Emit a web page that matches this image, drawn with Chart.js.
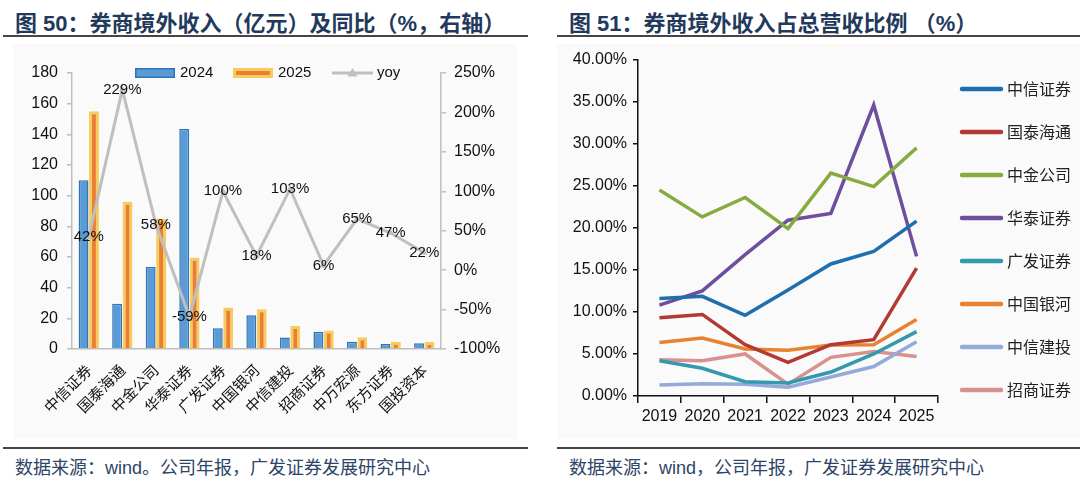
<!DOCTYPE html>
<html>
<head>
<meta charset="utf-8">
<script src="https://cdn.jsdelivr.net/npm/chart.js@4.4.1/dist/chart.umd.min.js"></script>
<style>
  body { margin: 0; width: 1080px; height: 482px; background: #fff; position: relative; overflow: hidden; }
  .title { position: absolute; top: 5px; font: bold 22px "Liberation Sans", "Noto Sans CJK SC", sans-serif; color: #1F3A5C; white-space: nowrap; }
  .rule { position: absolute; height: 2px; background: #454545; }
  .src { position: absolute; top: 453px; font: 18px "Liberation Sans", "Noto Sans CJK SC", sans-serif; color: #2D4566; white-space: nowrap; }
  .panel { position: absolute; top: 44px; height: 395px; background: #FAFAFA; }
  canvas { position: absolute; top: 44px; }
</style>
</head>
<body>
<div class="title" style="left:15px">图 50：券商境外收入（亿元）及同比（%，右轴）</div>
<div class="rule" style="left:3px;width:525px;top:35px"></div>
<div class="panel" style="left:13px;width:504px"></div>
<canvas id="left" style="left:13px" width="504" height="395"></canvas>
<div class="rule" style="left:3px;width:525px;top:447px"></div>
<div class="src" style="left:15px">数据来源：wind。公司年报，广发证券发展研究中心</div>

<div class="title" style="left:569px">图 51：券商境外收入占总营收比例 （%）</div>
<div class="rule" style="left:557px;width:523px;top:35px"></div>
<div class="panel" style="left:557px;width:523px"></div>
<canvas id="right" style="left:557px" width="523" height="395"></canvas>
<div class="rule" style="left:557px;width:523px;top:447px"></div>
<div class="src" style="left:569px">数据来源：wind，公司年报，广发证券发展研究中心</div>

<script>
// 图50 数据
const brokers = ['中信证券', '国泰海通', '中金公司', '华泰证券', '广发证券', '中国银河', '中信建投', '招商证券', '中万宏源', '东方证券', '国投资本'];
const rev2024 = [110, 29.5, 53.5, 143.5, 13.5, 22, 7.5, 11.2, 4.7, 3.2, 3.7];
const rev2025 = [155, 96, 85, 59.5, 27, 26, 15, 12, 7.7, 4.8, 4.6];
const yoy = [42, 229, 58, -59, 100, 18, 103, 6, 65, 47, 22];
const leftTicks = [0, 20, 40, 60, 80, 100, 120, 140, 160, 180];
const rightTicks = [-100, -50, 0, 50, 100, 150, 200, 250];

// 图51 数据
const years = ['2019', '2020', '2021', '2022', '2023', '2024', '2025'];
const citic = [11.6, 11.85, 9.6, 12.6, 15.7, 17.2, 20.8];
const gtht = [9.3, 9.7, 6.1, 4.0, 6.1, 6.7, 15.2];
const cicc = [24.5, 21.3, 23.6, 19.9, 26.5, 24.9, 29.5];
const htsc = [10.8, 12.5, 16.8, 20.9, 21.7, 34.6, 16.6];
const gfzq = [4.2, 3.3, 1.7, 1.55, 2.85, 5.0, 7.65];
const yinhe = [6.35, 6.9, 5.6, 5.45, 6.05, 6.1, 9.1];
const csc = [1.3, 1.45, 1.4, 1.05, 2.25, 3.5, 6.45];
const cms = [4.3, 4.2, 5.0, 1.4, 4.6, 5.3, 4.7];

const NUM_FONT = '"Liberation Sans", "Noto Sans CJK SC", sans-serif';
const CJK_FONT = '"Noto Sans CJK SC", sans-serif';

// yoy 数据标签, 居中放在点上
const yoyLabels = {
  id: 'yoyLabels',
  afterDatasetsDraw(chart) {
    const meta = chart.getDatasetMeta(2);
    const ctx = chart.ctx;
    ctx.save();
    ctx.font = '15px ' + NUM_FONT;
    ctx.fillStyle = '#111';
    ctx.textAlign = 'center';
    ctx.textBaseline = 'middle';
    meta.data.forEach((pt, i) => ctx.fillText(yoy[i] + '%', pt.x, pt.y));
    ctx.restore();
  }
};

// 图例画在绘图区里面
const leftLegend = {
  id: 'leftLegend',
  afterDraw(chart) {
    const ctx = chart.ctx;
    const ds = chart.data.datasets;
    ctx.save();
    ctx.font = '15px ' + NUM_FONT;
    ctx.fillStyle = '#111';
    ctx.textBaseline = 'middle';
    const y = 29;
    [[122, 0], [220, 1]].forEach(([x, i]) => {
      const bw = ds[i].borderWidth;
      ctx.fillStyle = ds[i].borderColor;
      ctx.fillRect(x, y - 5, 40, 10);
      ctx.fillStyle = ds[i].backgroundColor;
      ctx.fillRect(x + bw, y - 5 + bw, 40 - 2 * bw, 10 - 2 * bw);
      ctx.fillStyle = '#111';
      ctx.fillText(ds[i].label, x + 45, y);
    });
    ctx.strokeStyle = ds[2].borderColor;
    ctx.lineWidth = 3;
    ctx.beginPath();
    ctx.moveTo(319, y);
    ctx.lineTo(360, y);
    ctx.stroke();
    ctx.fillStyle = ds[2].borderColor;
    ctx.beginPath();
    ctx.moveTo(339.5, y - 5);
    ctx.lineTo(344.5, y + 3.5);
    ctx.lineTo(334.5, y + 3.5);
    ctx.closePath();
    ctx.fill();
    ctx.fillStyle = '#111';
    ctx.fillText(ds[2].label, 364, y);
    ctx.restore();
  }
};

const rightLegend = {
  id: 'rightLegend',
  afterDraw(chart) {
    const ctx = chart.ctx;
    ctx.save();
    ctx.font = '16px ' + CJK_FONT;
    ctx.textBaseline = 'middle';
    ctx.lineCap = 'round';
    chart.data.datasets.forEach((d, i) => {
      const y = 45 + i * 43;
      ctx.strokeStyle = d.borderColor;
      ctx.lineWidth = 4.5;
      ctx.beginPath();
      ctx.moveTo(405, y);
      ctx.lineTo(444, y);
      ctx.stroke();
      ctx.fillStyle = '#222';
      ctx.fillText(d.label, 450, y);
    });
    ctx.restore();
  }
};

new Chart(document.getElementById('left'), {
  data: {
    labels: brokers,
    datasets: [
      { type: 'bar', label: '2024', data: rev2024, backgroundColor: '#5B9BD5', borderColor: '#2E75B6', borderWidth: 1.5, yAxisID: 'y', order: 2, barPercentage: 0.95, categoryPercentage: 0.62 },
      { type: 'bar', label: '2025', data: rev2025, backgroundColor: '#ED7D31', borderColor: '#F4CD5E', borderWidth: 3, yAxisID: 'y', order: 2, barPercentage: 0.95, categoryPercentage: 0.62 },
      { type: 'line', label: 'yoy', data: yoy, borderColor: '#BFBFBF', backgroundColor: '#BFBFBF', borderWidth: 3, pointStyle: 'triangle', pointRadius: 4, pointBackgroundColor: '#BFBFBF', pointBorderWidth: 0, tension: 0, yAxisID: 'y1', order: 1 }
    ]
  },
  options: {
    responsive: false,
    animation: false,
    layout: { padding: { top: 29, left: 0, right: 0, bottom: 0 } },
    plugins: { legend: { display: false }, tooltip: { enabled: false } },
    scales: {
      x: {
        grid: { display: false },
        border: { color: '#BFBFBF', width: 1.5 },
        ticks: { color: '#111', font: { family: CJK_FONT, size: 15 }, minRotation: 45, maxRotation: 45, padding: 4, autoSkip: false },
        afterFit(s) { s.height = 90; }
      },
      y: {
        position: 'left',
        min: 0, max: 180,
        afterBuildTicks(s) { s.ticks = leftTicks.map(v => ({ value: v })); },
        grid: { drawOnChartArea: false, tickLength: 5, color: '#BFBFBF', lineWidth: 1.5 },
        border: { color: '#BFBFBF', width: 1.5 },
        ticks: { color: '#111', font: { family: NUM_FONT, size: 16 }, padding: 9 },
        afterFit(s) { s.width = 59; }
      },
      y1: {
        position: 'right',
        min: -100, max: 250,
        afterBuildTicks(s) { s.ticks = rightTicks.map(v => ({ value: v })); },
        grid: { drawOnChartArea: false, tickLength: 5, color: '#BFBFBF', lineWidth: 1.5 },
        border: { color: '#BFBFBF', width: 1.5 },
        ticks: { color: '#111', font: { family: NUM_FONT, size: 16 }, padding: 8, callback: v => v + '%' },
        afterFit(s) { s.width = 76; }
      }
    }
  },
  plugins: [yoyLabels, leftLegend]
});

const lineSeries = [
  ['中信证券', citic, '#1F6EAE'],
  ['国泰海通', gtht, '#B23A33'],
  ['中金公司', cicc, '#86AC41'],
  ['华泰证券', htsc, '#6E4F9C'],
  ['广发证券', gfzq, '#3399AD'],
  ['中国银河', yinhe, '#E8822E'],
  ['中信建投', csc, '#94AAD8'],
  ['招商证券', cms, '#D9918F']
];

new Chart(document.getElementById('right'), {
  type: 'line',
  data: {
    labels: years,
    datasets: lineSeries.map(([name, vals, color]) => ({
      label: name, data: vals, borderColor: color, backgroundColor: color,
      borderWidth: 3.5, pointRadius: 0, tension: 0
    }))
  },
  options: {
    responsive: false,
    animation: false,
    layout: { padding: { top: 12, right: 142, left: 0, bottom: 0 } },
    plugins: { legend: { display: false }, tooltip: { enabled: false } },
    scales: {
      x: {
        offset: true,
        grid: { offset: true, drawOnChartArea: false, tickLength: 7, color: '#111', lineWidth: 1.5 },
        border: { color: '#111', width: 1.5 },
        ticks: { color: '#111', font: { family: NUM_FONT, size: 16 }, padding: 4, maxRotation: 0 },
        afterFit(s) { s.height = 43; }
      },
      y: {
        min: 0, max: 40,
        ticks: { stepSize: 5, color: '#111', font: { family: NUM_FONT, size: 16 }, padding: 6, callback: v => v.toFixed(2) + '%' },
        grid: { drawOnChartArea: false, tickLength: 5, color: '#111', lineWidth: 1.5 },
        border: { color: '#111', width: 1.5 },
        afterFit(s) { s.width = 81; }
      }
    }
  },
  plugins: [rightLegend]
});
</script>
</body>
</html>
